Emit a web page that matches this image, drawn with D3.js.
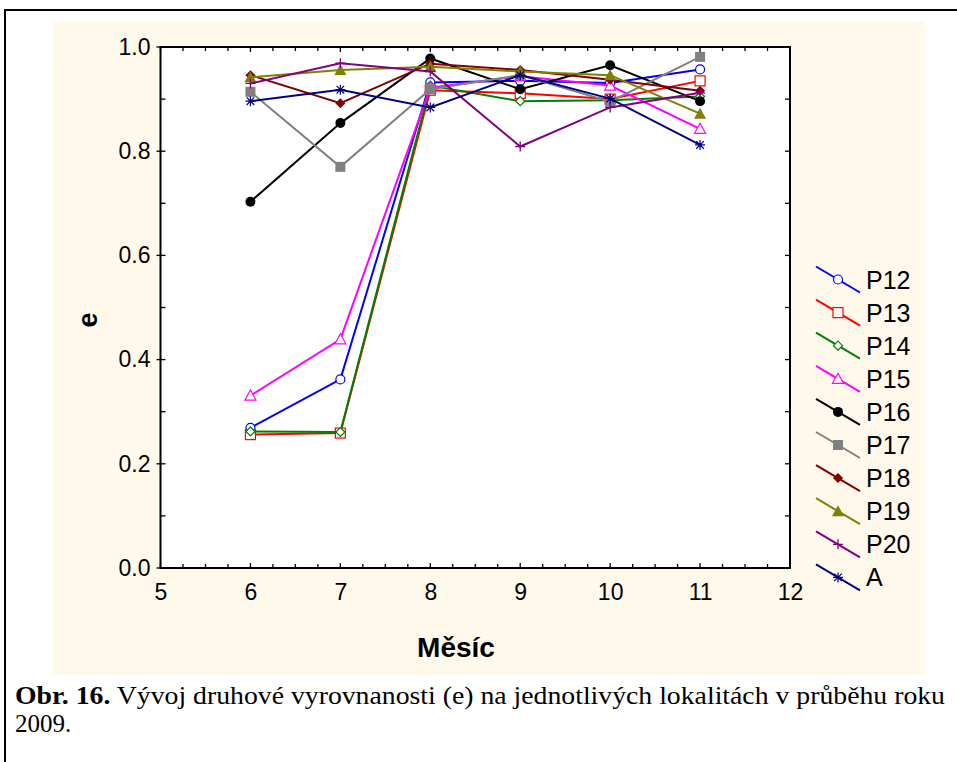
<!DOCTYPE html>
<html><head><meta charset="utf-8">
<script src="https://cdn.jsdelivr.net/npm/d3@7"></script>
<style>html,body{margin:0;padding:0;background:#fff;}svg{display:block;}</style>
</head><body>
<script>
const months = [6, 7, 8, 9, 10, 11];
const seriesNames = ["P12","P13","P14","P15","P16","P17","P18","P19","P20","A"];
const P12 = [0.269, 0.362, 0.932, 0.935, 0.931, 0.957];
const P13 = [0.256, 0.259, 0.917, 0.911, 0.900, 0.935];
const P14 = [0.262, 0.261, 0.926, 0.896, 0.898, 0.905];
const P15 = [0.331, 0.439, 0.922, 0.944, 0.926, 0.843];
const P16 = [0.703, 0.854, 0.978, 0.919, 0.965, 0.896];
const P17 = [0.914, 0.770, 0.919, 0.946, 0.895, 0.981];
const P18 = [0.946, 0.892, 0.968, 0.956, 0.937, 0.916];
const P19 = [0.942, 0.956, 0.962, 0.953, 0.946, 0.872];
const P20 = [0.930, 0.969, 0.953, 0.809, 0.884, 0.912];
const A   = [0.896, 0.918, 0.884, 0.946, 0.901, 0.812];
const xTickLabels = [5, 6, 7, 8, 9, 10, 11, 12];
const yTickLabels = [0.0, 0.2, 0.4, 0.6, 0.8, 1.0];
const xTitle = "Měsíc";
const yTitle = "e";
const captionBold = "Obr. 16.";
const captionRest = " Vývoj druhové vyrovnanosti (e) na jednotlivých lokalitách v průběhu roku";
const captionLine2 = "2009.";

const values = [P12,P13,P14,P15,P16,P17,P18,P19,P20,A];
const colors = ["#0000FF","#FF0000","#008000","#FF00FF","#000000","#808080","#800000","#808000","#800080","#000080"];
const markers = ["circleO","squareO","diamondO","triangleO","circleF","squareF","diamondF","triangleF","plus","asterisk"];

const W = 957, H = 762;
const svg = d3.select("body").append("svg").attr("width", W).attr("height", H);

svg.append("rect").attr("x",0).attr("y",0).attr("width",W).attr("height",H).attr("fill","#fff");
svg.append("rect").attr("x",53).attr("y",22).attr("width",872).attr("height",653).attr("fill","#FFF9EC");
svg.append("path").attr("d","M5,762 V10 H957").attr("fill","none").attr("stroke","#000").attr("stroke-width",2);

const x = d3.scaleLinear().domain([5,12]).range([160.5, 790]);
const y = d3.scaleLinear().domain([0,1]).range([568, 47]);

const g = svg.append("g");
g.append("rect").attr("x",x(5)).attr("y",y(1)).attr("width",x(12)-x(5)).attr("height",y(0)-y(1)).attr("fill","#fff");

const tickG = g.append("g").attr("stroke","#000").attr("stroke-width",1.3);
d3.range(5, 12.001, 0.25).forEach(v => {
  const major = Math.abs(v - Math.round(v)) < 1e-6;
  const len = major ? 5 : 4;
  tickG.append("line").attr("x1",x(v)).attr("x2",x(v)).attr("y1",y(0)).attr("y2",y(0)-len);
  tickG.append("line").attr("x1",x(v)).attr("x2",x(v)).attr("y1",y(1)).attr("y2",y(1)+len);
});
d3.range(0, 1.0001, 0.1).forEach(v => {
  const major = Math.abs(v*5 - Math.round(v*5)) < 1e-6;
  tickG.append("line").attr("x1",x(5)-(major?4:0)).attr("x2",x(5)+5).attr("y1",y(v)).attr("y2",y(v));
  tickG.append("line").attr("x1",x(12)).attr("x2",x(12)-5).attr("y1",y(v)).attr("y2",y(v));
});
g.append("rect").attr("x",x(5)).attr("y",y(1)).attr("width",x(12)-x(5)).attr("height",y(0)-y(1))
  .attr("fill","none").attr("stroke","#000").attr("stroke-width",2);

const xAxis = d3.axisBottom(x).tickValues(xTickLabels).tickSize(0).tickPadding(0).tickFormat(d3.format("d"));
const xa = g.append("g").attr("transform",`translate(0,${y(0)+16})`).call(xAxis);
xa.select(".domain").remove();
xa.selectAll("text").attr("font-family","Liberation Sans, Arial, sans-serif").attr("font-size",23).attr("fill","#000").attr("dy","0.71em");
const yAxis = d3.axisLeft(y).tickValues(yTickLabels).tickSize(0).tickPadding(0).tickFormat(d3.format(".1f"));
const ya = g.append("g").attr("transform",`translate(${x(5)-10},0)`).call(yAxis);
ya.select(".domain").remove();
ya.selectAll("text").attr("font-family","Liberation Sans, Arial, sans-serif").attr("font-size",23).attr("fill","#000");

svg.append("text").attr("x",456).attr("y",657).attr("text-anchor","middle")
  .attr("font-family","Liberation Sans, Arial, sans-serif").attr("font-weight","bold").attr("font-size",28).text(xTitle);
svg.append("text").attr("transform","translate(97,320) rotate(-90)").attr("text-anchor","middle")
  .attr("font-family","Liberation Sans, Arial, sans-serif").attr("font-weight","bold").attr("font-size",27).text(yTitle);

function drawMarker(sel, type, color, cx, cy, scale) {
  const s = scale || 1;
  const m = sel.append("g").attr("transform",`translate(${cx},${cy}) scale(${s})`);
  switch(type){
    case "circleO": m.append("circle").attr("r",4.5).attr("fill","#fff").attr("stroke",color).attr("stroke-width",1.2); break;
    case "circleF": m.append("circle").attr("r",5).attr("fill",color); break;
    case "squareO": m.append("rect").attr("x",-5).attr("y",-5).attr("width",10).attr("height",10).attr("fill","#fff").attr("stroke",color).attr("stroke-width",1.2); break;
    case "squareF": m.append("rect").attr("x",-5).attr("y",-5).attr("width",10).attr("height",10).attr("fill",color); break;
    case "diamondO": m.append("path").attr("d","M0,-4.5L4.5,0L0,4.5L-4.5,0Z").attr("fill","#fff").attr("stroke",color).attr("stroke-width",1.2); break;
    case "diamondF": m.append("path").attr("d","M0,-5L5,0L0,5L-5,0Z").attr("fill",color); break;
    case "triangleO": m.append("path").attr("d","M0,-5.5L5.5,4.5L-5.5,4.5Z").attr("fill","#fff").attr("stroke",color).attr("stroke-width",1.2); break;
    case "triangleF": m.append("path").attr("d","M0,-6L6,5L-6,5Z").attr("fill",color); break;
    case "plus": m.append("path").attr("d","M-5,0H5M0,-5V5").attr("stroke",color).attr("stroke-width",1.3).attr("fill","none"); break;
    case "asterisk": m.append("path").attr("d","M-5,0H5M0,-5V5M-3.8,-3.8L3.8,3.8M-3.8,3.8L3.8,-3.8").attr("stroke",color).attr("stroke-width",1.2).attr("fill","none"); break;
  }
}

const line = d3.line().x((d,i) => x(months[i])).y(d => y(d));
const plotG = g.append("g");
values.forEach((vals, k) => {
  plotG.append("path").datum(vals).attr("d", line).attr("fill","none").attr("stroke",colors[k]).attr("stroke-width",2);
  vals.forEach((v,i) => drawMarker(plotG, markers[k], colors[k], x(months[i]), y(v)));
});

const leg = svg.append("g");
seriesNames.forEach((name, k) => {
  const cy = 279.5 + k*33.1;
  leg.append("line").attr("x1",816).attr("y1",cy-13).attr("x2",860).attr("y2",cy+13).attr("stroke",colors[k]).attr("stroke-width",2);
  drawMarker(leg, markers[k], colors[k], 838, cy, 1);
  leg.append("text").attr("x",866).attr("y",cy+9).attr("font-family","Liberation Sans, Arial, sans-serif").attr("font-size",25).text(name);
});

const cap = svg.append("text").attr("x",15).attr("y",704).attr("font-family","Liberation Serif, 'Times New Roman', serif").attr("font-size",25)
  .attr("textLength",930).attr("lengthAdjust","spacingAndGlyphs");
cap.append("tspan").attr("font-weight","bold").text(captionBold);
cap.append("tspan").text(captionRest);
svg.append("text").attr("x",15).attr("y",732).attr("font-family","Liberation Serif, 'Times New Roman', serif").attr("font-size",25).text(captionLine2);
</script>
</body></html>
